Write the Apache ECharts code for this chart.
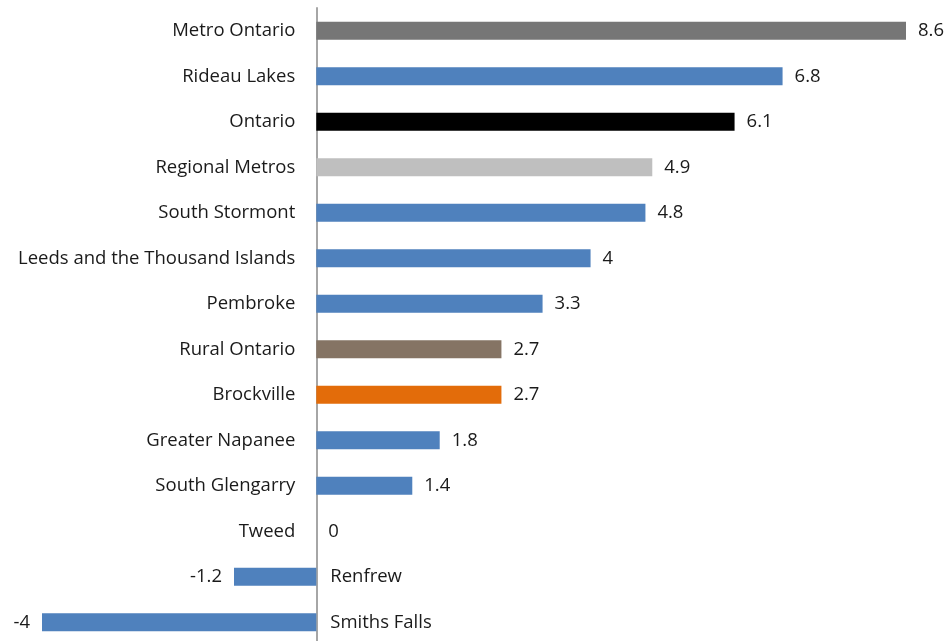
<!DOCTYPE html>
<html>
<head>
<meta charset="utf-8">
<script src="https://cdn.jsdelivr.net/npm/echarts@6/dist/echarts.min.js"></script>
<style>
  html, body { margin: 0; padding: 0; background: #ffffff; }
  #chart { width: 951px; height: 641px; }
</style>
</head>
<body>
<div id="chart"></div>
<script>
// Categories from top to bottom
const categories = [
  'Metro Ontario', 'Rideau Lakes', 'Ontario', 'Regional Metros', 'South Stormont',
  'Leeds and the Thousand Islands', 'Pembroke', 'Rural Ontario', 'Brockville',
  'Greater Napanee', 'South Glengarry', 'Tweed', 'Renfrew', 'Smiths Falls'
];
const values = [8.6, 6.8, 6.1, 4.9, 4.8, 4, 3.3, 2.7, 2.7, 1.8, 1.4, 0, -1.2, -4];
const barColors = [
  '#767676', '#4F81BD', '#000000', '#BFBFBF', '#4F81BD',
  '#4F81BD', '#4F81BD', '#857464', '#E36C0A',
  '#4F81BD', '#4F81BD', '#4F81BD', '#4F81BD', '#4F81BD'
];

const FONT = 'Open Sans';
const FS = 18.5;
const TEXT = '#1a1a1a';

// Category axis reads top-down, so the arrays are reversed for ECharts
const cats = categories.slice().reverse();
const vals = values.slice().reverse();
const cols = barColors.slice().reverse();

const chart = echarts.init(document.getElementById('chart'));
chart.setOption({
  animation: false,
  backgroundColor: '#ffffff',
  grid: { left: 42, right: 45, top: 8, bottom: -4, containLabel: false, outerBoundsMode: 'none' },
  xAxis: {
    type: 'value', min: -4, max: 8.6,
    show: false
  },
  yAxis: {
    type: 'category',
    data: cats,
    axisLine: { onZero: true, lineStyle: { color: '#A6A6A6', width: 2 } },
    axisTick: { show: false },
    axisLabel: { show: false }
  },
  series: [
    {
      // Value labels: right of positive bars, left of negative bars
      type: 'bar',
      data: vals.map((v, i) => ({
        value: v,
        itemStyle: { color: cols[i] },
        label: { position: v < 0 ? 'left' : 'right' }
      })),
      barWidth: 18,
      label: {
        show: true, distance: 12,
        fontFamily: FONT, fontSize: FS, color: TEXT,
        formatter: p => String(p.value)
      },
      z: 2
    },
    {
      // Category names on the opposite side of the zero line from each bar
      type: 'bar',
      data: vals.map(v => ({
        value: v,
        label: { position: v < 0 ? 'right' : 'left', distance: v < 0 ? 14 : 21 }
      })),
      barWidth: 18,
      barGap: '-100%',
      itemStyle: { color: 'rgba(0,0,0,0)' },
      label: {
        show: true,
        fontFamily: FONT, fontSize: FS, color: TEXT,
        formatter: p => cats[p.dataIndex]
      },
      silent: true,
      z: 3
    }
  ]
});
</script>
</body>
</html>
